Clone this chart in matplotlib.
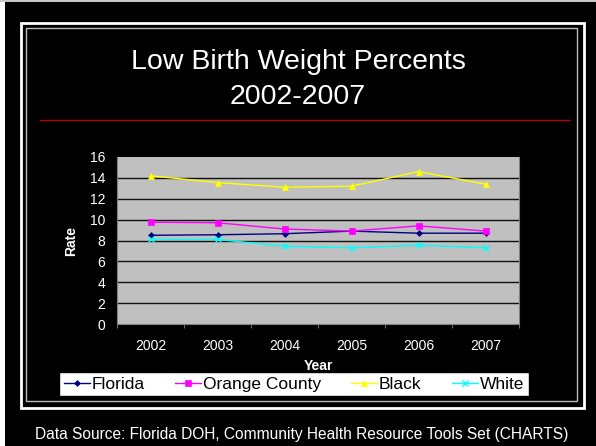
import matplotlib
matplotlib.use("Agg")
import matplotlib.pyplot as plt
from matplotlib.patches import Rectangle
from matplotlib.lines import Line2D

plt.rcParams['font.family'] = ['Liberation Sans', 'DejaVu Sans']

years = ["2002", "2003", "2004", "2005", "2006", "2007"]
florida = [8.5, 8.55, 8.65, 8.9, 8.7, 8.7]
orange_county = [9.75, 9.7, 9.1, 8.9, 9.4, 8.9]
black = [14.2, 13.55, 13.1, 13.2, 14.6, 13.4]
white = [8.1, 8.1, 7.45, 7.3, 7.55, 7.3]

series = [
    ("Florida", florida, "#000080", "D", 3),
    ("Orange County", orange_county, "#FF00FF", "s", 4),
    ("Black", black, "#FFFF00", "^", 5),
    ("White", white, "#00FFFF", "x", 4),
]

W, H = 596, 446
fig = plt.figure(figsize=(W / 100, H / 100), dpi=100)
fig.patch.set_facecolor("white")

def box(x0, y0, x1, y1, **kw):
    # pixel coords (top-left origin) -> figure fraction
    fig.patches.append(Rectangle((x0 / W, 1 - y1 / H), (x1 - x0) / W, (y1 - y0) / H,
                                 transform=fig.transFigure, figure=fig, zorder=-5, **kw))

box(0, 0, W, 2, facecolor="#c8c8c8", edgecolor="none")
box(5, 2, W, H, facecolor="black", edgecolor="none")
box(21, 23, 584, 408, facecolor="none", edgecolor="white", linewidth=2)
box(26, 28, 577, 401, facecolor="none", edgecolor="#bbbbbb", linewidth=1)

fig.text(0.5, 1 - 62 / H, "Low Birth Weight Percents", color="white", fontsize=20.5,
         ha="center", va="center")
fig.text(0.5, 1 - 97 / H, "2002-2007", color="white", fontsize=20.5,
         ha="center", va="center")
fig.add_artist(Line2D([40 / W, 570 / W], [1 - 120 / H, 1 - 120 / H],
                      color="#b00000", linewidth=1, transform=fig.transFigure))

ax = fig.add_axes([117 / W, 1 - 324 / H, (519 - 117) / W, (324 - 157) / H])
ax.set_zorder(2)
ax.set_facecolor("#c0c0c0")
for yv in range(2, 16, 2):
    ax.axhline(yv, color="#101010", linewidth=1, zorder=0.5)
x = range(len(years))
for name, vals, col, mk, ms in series:
    ax.plot(x, vals, color=col, marker=mk, markersize=ms, linewidth=1, label=name,
            markeredgewidth=1 if mk == "x" else 0.5)

ax.set_xlim(-0.5, len(years) - 0.5)
ax.set_ylim(0, 16)
ax.set_yticks(range(0, 17, 2))
ax.set_xticks(list(x))
ax.set_xticklabels(years)
ax.set_xticks([i + 0.5 for i in range(-1, len(years))], minor=True)
ax.tick_params(axis="x", which="major", length=0, pad=11)
ax.tick_params(axis="x", which="minor", length=3, color="#808080")
ax.tick_params(axis="y", length=0, pad=8.5)
ax.tick_params(colors="white", labelsize=10)
ax.spines["top"].set_visible(False)
for s in ("left", "bottom", "right"):
    ax.spines[s].set_color("#808080")
ax.set_xlabel("Year", color="white", fontsize=10, fontweight="bold", labelpad=4)
ax.set_ylabel("Rate", color="white", fontsize=10, fontweight="bold", labelpad=8.5)

leg = fig.legend(loc="center", bbox_to_anchor=(294 / W, 1 - 384 / H), ncol=4,
                 fontsize=12.5, frameon=True, fancybox=False, borderpad=0.25,
                 handlelength=1.5, handletextpad=0.1, columnspacing=1.75,
                 borderaxespad=0)
leg.set_zorder(10)
leg.get_frame().set_facecolor("white")
leg.get_frame().set_edgecolor("black")
leg.get_frame().set_alpha(1)
for t in leg.get_texts():
    t.set_color("black")

fig.text(302 / W, 1 - 435 / H,
         "Data Source: Florida DOH, Community Health Resource Tools Set (CHARTS)",
         color="white", fontsize=11.2, ha="center", va="center")

fig.savefig("out.png", dpi=100, facecolor=fig.get_facecolor())
